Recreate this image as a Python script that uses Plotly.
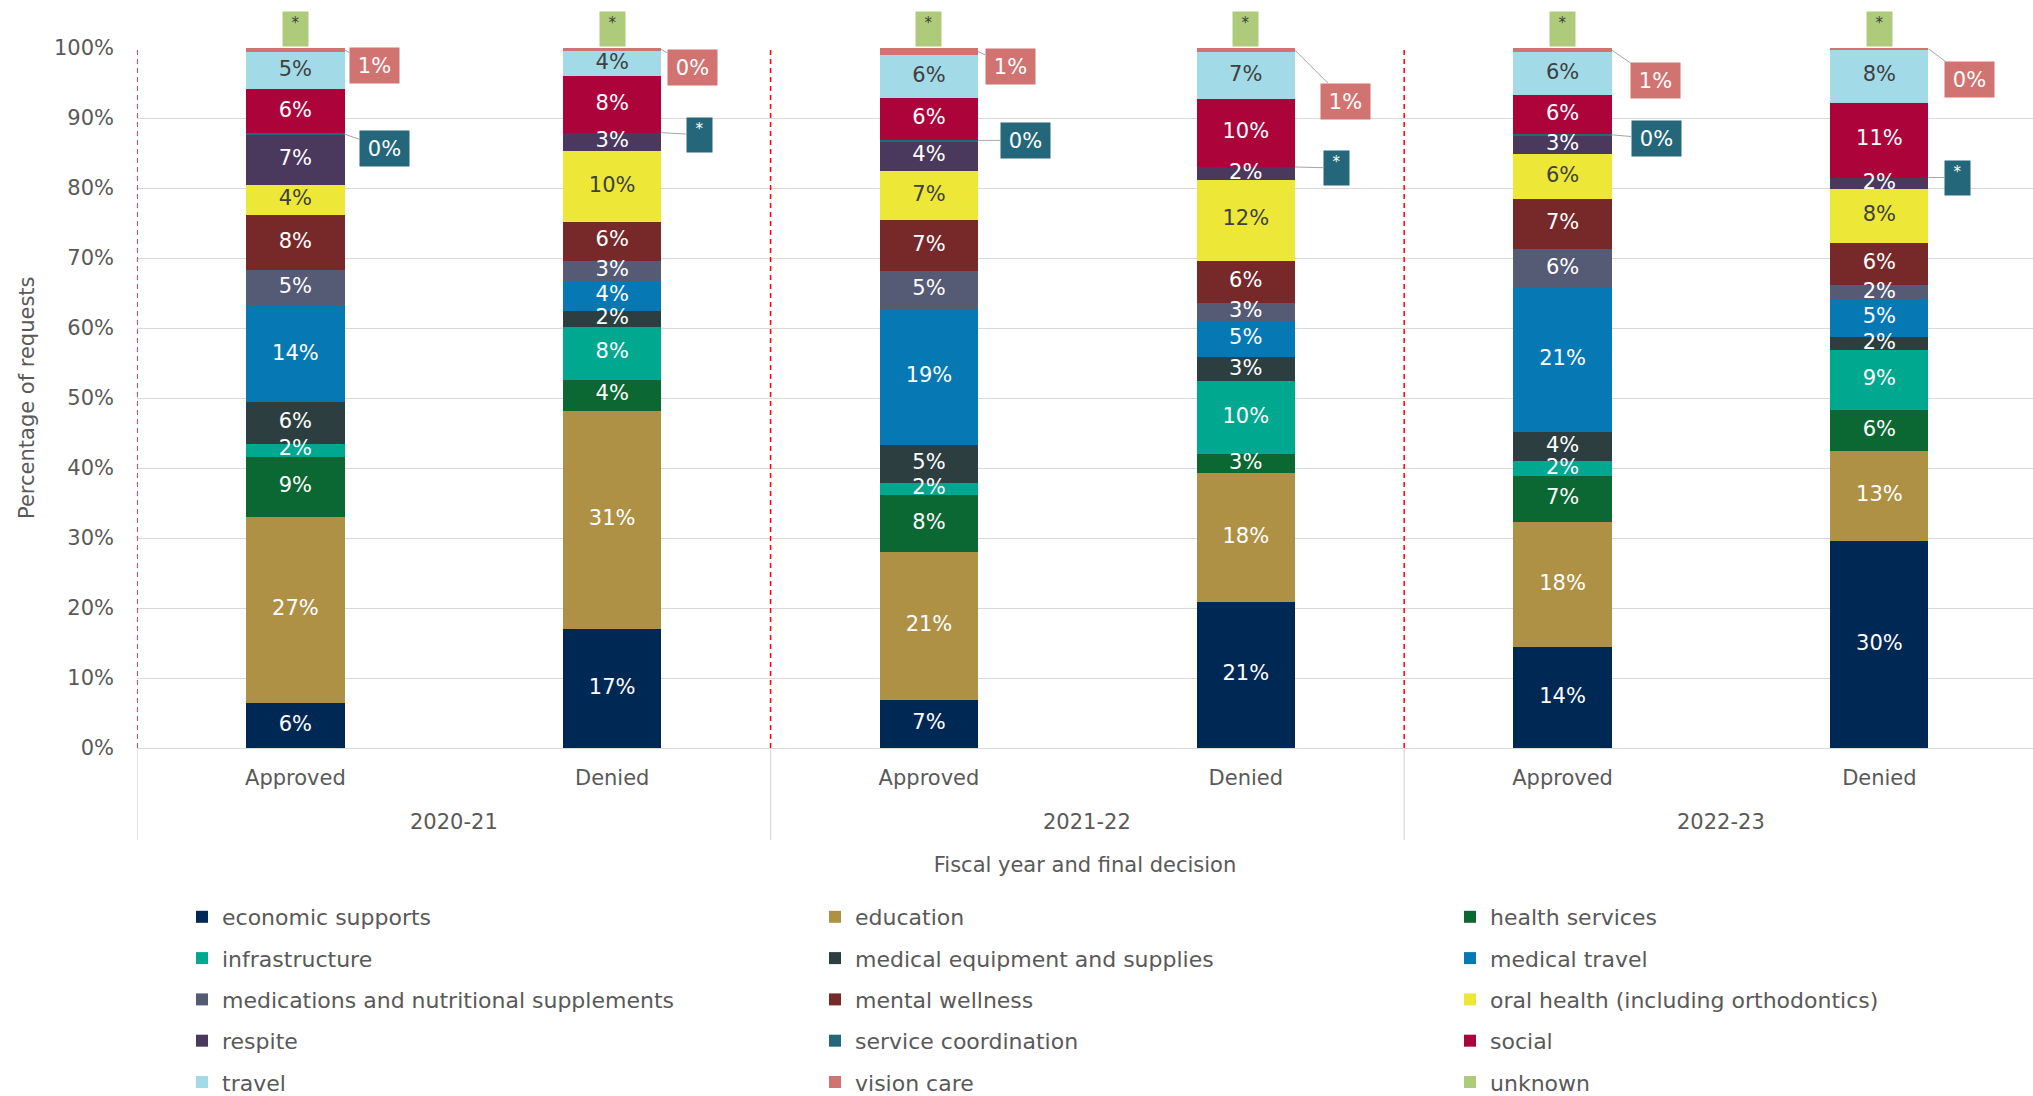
import plotly.graph_objects as go

# ---------------- data ----------------
years = ["2020-21", "2020-21", "2021-22", "2021-22", "2022-23", "2022-23"]
decisions = ["Approved", "Denied", "Approved", "Denied", "Approved", "Denied"]

categories = [
    "economic supports", "education", "health services",
    "infrastructure", "medical equipment and supplies", "medical travel",
    "medications and nutritional supplements", "mental wellness", "oral health (including orthodontics)",
    "respite", "service coordination", "social",
    "travel", "vision care", "unknown",
]

economic_supports = [6.4, 17.0, 6.9, 20.9, 14.4, 29.6]
education = [26.6, 31.2, 21.1, 18.4, 17.9, 12.8]
health_services = [8.6, 4.4, 8.2, 2.7, 6.6, 5.9]
infrastructure = [1.9, 7.6, 1.7, 10.4, 2.1, 8.6]
medical_equipment = [5.9, 2.2, 5.4, 3.4, 4.1, 1.8]
medical_travel = [13.7, 4.3, 19.4, 5.2, 20.6, 5.4]
medications = [5.2, 2.9, 5.4, 2.6, 5.6, 2.0]
mental_wellness = [7.8, 5.6, 7.4, 6.0, 7.2, 6.1]
oral_health = [4.4, 10.1, 6.9, 11.6, 6.3, 7.6]
respite = [7.1, 2.6, 4.3, 1.8, 2.7, 1.7]
service_coordination = [0.2, None, 0.2, None, 0.2, None]   # None = suppressed (*)
social = [6.3, 8.1, 5.9, 9.7, 5.6, 10.7]
travel = [5.3, 3.6, 6.2, 6.7, 6.1, 7.6]
vision_care = [0.6, 0.4, 1.0, 0.6, 0.6, 0.2]
unknown = [None, None, None, None, None, None]                # suppressed (*)

series = [economic_supports, education, health_services, infrastructure,
          medical_equipment, medical_travel, medications, mental_wellness,
          oral_health, respite, service_coordination, social, travel,
          vision_care, unknown]

# ---------------- styles ----------------
colors = ["#002855", "#AF9145", "#0B6832", "#00A88F", "#2D3E40", "#0679B5",
          "#555A75", "#772829", "#EDE837", "#4A385D", "#24677A", "#AD033B",
          "#A3DAE7", "#D17371", "#AECB7B"]
dark_text = {"travel", "oral health (including orthodontics)"}
callout_cats = {"service coordination", "vision care", "unknown"}

FONT = "DejaVu Sans"
FS = 21
GRAY = "#595959"
BAR_W = 0.31

x_pos = list(range(len(years)))
n = len(years)

fig = go.Figure()
legend_ids = ["legend", "legend2", "legend3"]
for k, (name, vals, col) in enumerate(zip(categories, series, colors)):
    fig.add_trace(go.Bar(
        name=name, x=x_pos, y=vals, width=BAR_W,
        marker=dict(color=col, line=dict(width=0)),
        legend=legend_ids[k % 3], legendgroup=name,
        hoverinfo="skip",
    ))

# segment labels drawn on top of all bars
lx, ly, lt, lc = [], [], [], []
bottoms_all = []
for i in range(n):
    cum = 0.0
    bottoms = []
    for name, vals in zip(categories, series):
        bottoms.append(cum)
        v = vals[i]
        if v is not None and name not in callout_cats:
            lx.append(x_pos[i])
            ly.append(cum + v / 2)
            lt.append(f"{round(v)}%")
            lc.append("#3F3F3F" if name in dark_text else "#FFFFFF")
        cum += v or 0.0
    bottoms_all.append(bottoms)

fig.add_trace(go.Scatter(
    x=lx, y=ly, text=lt, mode="text", textposition="middle center",
    textfont=dict(family=FONT, size=FS, color=lc),
    showlegend=False, hoverinfo="skip", cliponaxis=False,
))

# ---------------- callouts ----------------
def lab(v):
    return "*" if v is None else f"{round(v)}%"

vision_offsets = [(30, 15), (31, 18), (32, 15), (51, 51), (44, 30), (41, 31)]
sc_offsets = [(40, 14), (38, 2), (47, 0), (42, 1), (45, 4), (29, 0)]

si = categories.index("service coordination")
vi = categories.index("vision care")
ui = categories.index("unknown")

annotations = []
for i in range(n):
    bottoms = bottoms_all[i]
    v = service_coordination[i]
    star = v is None
    annotations.append(dict(
        x=x_pos[i] + BAR_W / 2, y=bottoms[si] + (v or 0) / 2, xref="x", yref="y",
        text=lab(v), showarrow=True, arrowhead=0, arrowwidth=1, arrowcolor="#A6A6A6",
        standoff=0, ax=sc_offsets[i][0], ay=sc_offsets[i][1],
        bgcolor=colors[si], width=21 if star else 45, height=30 if star else 31,
        borderpad=2, valign="top" if star else "middle",
        font=dict(family=FONT, size=15 if star else FS, color="#FFFFFF")))
    v = vision_care[i]
    annotations.append(dict(
        x=x_pos[i] + BAR_W / 2, y=bottoms[vi] + (v or 0) / 2, xref="x", yref="y",
        text=lab(v), showarrow=True, arrowhead=0, arrowwidth=1, arrowcolor="#A6A6A6",
        standoff=0, ax=vision_offsets[i][0], ay=vision_offsets[i][1],
        bgcolor=colors[vi], width=45, height=31, borderpad=2,
        font=dict(family=FONT, size=FS, color="#FFFFFF")))
    annotations.append(dict(
        x=x_pos[i], y=100, xref="x", yref="y", yanchor="bottom", yshift=1,
        text=lab(unknown[i]), showarrow=False,
        bgcolor=colors[ui], width=21, height=30, borderpad=2, valign="top",
        font=dict(family=FONT, size=15, color="#3F3F3F")))

# year (group) labels and separators
shapes = []
unique_years = list(dict.fromkeys(years))
for yr in unique_years:
    idx = [x_pos[j] for j in range(n) if years[j] == yr]
    center = sum(idx) / len(idx)
    annotations.append(dict(
        x=center, y=0, xref="x", yref="paper", yanchor="middle", yshift=-74,
        text=yr, showarrow=False, font=dict(family=FONT, size=FS, color=GRAY)))
    left = min(idx) - 0.5
    shapes.append(dict(type="line", xref="x", yref="y", x0=left, x1=left,
                       y0=0, y1=100, line=dict(color="#FF0000", width=1.5, dash="5px,4px"),
                       layer="above"))
    shapes.append(dict(type="line", xref="x", yref="paper", x0=left, x1=left,
                       y0=0, y1=-92 / 700, line=dict(color="#D9D9D9", width=1.3)))

# y-axis title
annotations.append(dict(
    x=0, y=0.5, xref="paper", yref="paper", xshift=-124, textangle=-90,
    text="Percentage of requests", showarrow=False,
    font=dict(family=FONT, size=FS, color=GRAY)))

legend_common = dict(orientation="v", xref="container", yref="container",
                     xanchor="left", yanchor="top", traceorder="grouped",
                     tracegroupgap=9.7, bgcolor="rgba(0,0,0,0)",
                     font=dict(family=FONT, size=22, color=GRAY))
leg_y = 1 - 896 / 1096

fig.update_layout(
    width=2033, height=1096,
    margin=dict(l=137, r=0, t=48, b=348, autoexpand=False),
    paper_bgcolor="white", plot_bgcolor="white",
    barmode="stack",
    font=dict(family=FONT, size=FS, color=GRAY),
    xaxis=dict(
        range=[-0.5, 5.485], tickvals=x_pos, ticktext=decisions,
        showgrid=False, showline=False, zeroline=False, ticks="",
        ticklabelstandoff=15,
        tickfont=dict(family=FONT, size=FS, color=GRAY),
        title=dict(text="Fiscal year and final decision",
                   font=dict(family=FONT, size=FS, color=GRAY), standoff=68),
    ),
    yaxis=dict(
        range=[0, 100], dtick=10, ticksuffix="%",
        showgrid=True, gridcolor="#D9D9D9", gridwidth=1.3,
        zeroline=True, zerolinecolor="#D9D9D9", zerolinewidth=1.3,
        ticks="", ticklabelstandoff=22,
        tickfont=dict(family=FONT, size=FS, color=GRAY),
    ),
    legend=dict(legend_common, x=182 / 2033, y=leg_y),
    legend2=dict(legend_common, x=815 / 2033, y=leg_y),
    legend3=dict(legend_common, x=1450 / 2033, y=leg_y),
    annotations=annotations,
    shapes=shapes,
)

fig.write_html("out.html", config={"displayModeBar": False},
               post_script="document.body.style.margin='0';document.body.style.padding='0';")
